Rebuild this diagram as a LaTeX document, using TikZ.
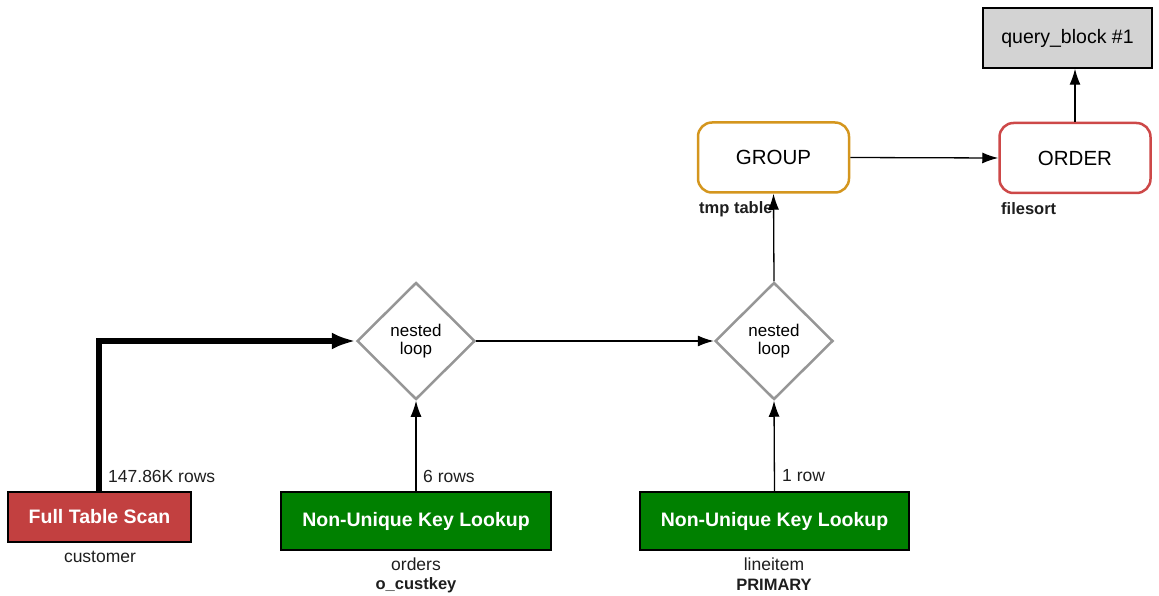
\documentclass[tikz,border=0pt]{standalone}
\usepackage{fontspec}
\setmainfont{Liberation Sans}
\usetikzlibrary{shapes.geometric,arrows.meta}
\definecolor{scanred}{RGB}{194,64,64}
\definecolor{lookupgreen}{RGB}{0,128,0}
\definecolor{blockgray}{RGB}{211,211,211}
\definecolor{ordered}{RGB}{205,72,72}
\definecolor{groupgold}{RGB}{212,150,30}
\definecolor{loopgray}{RGB}{150,150,150}
\definecolor{labelgray}{RGB}{30,30,30}
\tikzset{
  optext/.style={font=\fontsize{19.5}{21}\selectfont},
  lbl/.style={font=\fontsize{17.5}{19}\selectfont, text=labelgray, inner sep=0pt},
  lblb/.style={font=\fontsize{16.5}{18}\selectfont\bfseries, text=labelgray, inner sep=0pt},
  accessbox/.style={draw=black, line width=1.5pt, minimum height=58pt, inner sep=0pt,
    text=white, font=\fontsize{19.5}{21}\selectfont\bfseries},
  opbox/.style={rounded corners=14pt, line width=2.5pt, fill=white, minimum width=151pt,
    minimum height=70pt, inner sep=0pt, font=\fontsize{20.5}{22}\selectfont},
  loopnode/.style={diamond, draw=loopgray, line width=2.5pt, fill=white, minimum width=118pt,
    minimum height=117pt, inner sep=0pt, align=center, font=\fontsize{17}{17.5}\selectfont},
  flow/.style={-{Latex[length=16pt,width=11pt]}, line width=1.3pt},
  bigflow/.style={-{Latex[length=24pt,width=17pt]}, line width=6pt}
}
\begin{document}
\begin{tikzpicture}[x=1pt,y=-1pt]
\useasboundingbox (0,0) rectangle (1159,596);

% query block
\node[draw=black, line width=1.5pt, fill=blockgray, minimum width=169pt, minimum height=60pt,
  inner sep=0pt, optext] (qb) at (1067.5,38) {query\_block \#1};

% ordering and grouping
\node[opbox, draw=ordered] (order) at (1075,158) {ORDER};
\node[opbox, draw=groupgold] (group) at (773.5,157.5) {GROUP};
\node[lblb, anchor=west] (tmp) at (699,209) {tmp table};
\node[lblb, anchor=west] (fsort) at (1001,209) {filesort};

% joins
\node[loopnode] (nl1) at (416,341) {nested\\loop};
\node[loopnode] (nl2) at (774,341) {nested\\loop};

% table accesses
\node[accessbox, fill=scanred, minimum width=183pt, minimum height=50pt] (fts) at (99.5,517) {Full Table Scan};
\node[accessbox, fill=lookupgreen, minimum width=270pt] (nk1) at (416,521) {Non-Unique Key Lookup};
\node[accessbox, fill=lookupgreen, minimum width=269pt] (nk2) at (774.5,521) {Non-Unique Key Lookup};

\node[lbl] (cust) at (100,557) {customer};
\node[lbl] (ord) at (416,564) {orders};
\node[lblb] (okey) at (416,585) {o\_custkey};
\node[lbl] (li) at (774,564) {lineitem};
\node[lblb] (pk) at (774,585) {PRIMARY};

% connectors
\coordinate (bend) at (99,341);
\draw[bigflow] (fts.north -| bend) -- (bend) -- (nl1.west);
\node[lbl, anchor=west] (r1) at (108,476) {147.86K rows};
\draw[flow] (nk1.north) -- (nl1.south);
\node[lbl, anchor=west] (r2) at (423,476) {6 rows};
\draw[flow] (nk2.north) -- (nl2.south);
\node[lbl, anchor=west] (r3) at (782,476) {1 row};
\draw[flow] (nl1.east) -- (nl2.west);
\draw[flow] (nl2.north) -- (group.south);
\draw[flow] (group.east) -- (order.west);
\draw[flow] (order.north) -- (order.north |- qb.south);
\end{tikzpicture}
\end{document}
